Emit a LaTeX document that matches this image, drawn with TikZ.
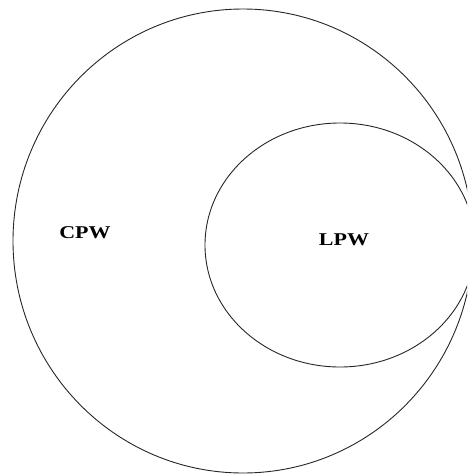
\documentclass[tikz,border=0pt]{standalone}
\usepackage{fontspec}
\setmainfont{Liberation Serif}
\usetikzlibrary{shapes.geometric}
\begin{document}
\begin{tikzpicture}[x=1pt,y=-1pt,
  setline/.style={draw=black!85,line width=0.9pt},
  setlabel/.style={font=\bfseries\fontsize{18}{18}\selectfont,inner sep=0pt}]
\useasboundingbox (0,0) rectangle (467,474);
\clip (0,0) rectangle (467,474);
\node[setline,ellipse,minimum width=460,minimum height=464,inner sep=0pt] (cpw) at (243,241) {};
\node[setline,ellipse,minimum width=270,minimum height=244,inner sep=0pt] (lpw) at (340,245) {};
\node[setlabel] (cpwlabel) at (85,233) {\scalebox{1.22}[1]{CPW}};
\node[setlabel] (lpwlabel) at (344,240) {\scalebox{1.22}[1]{LPW}};
\end{tikzpicture}
\end{document}
